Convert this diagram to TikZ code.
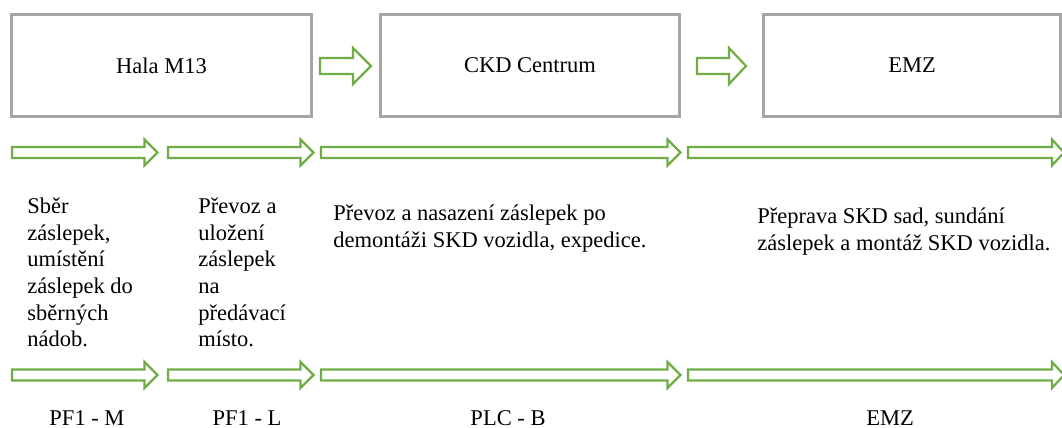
\documentclass[tikz,border=0pt]{standalone}
\usepackage{fontspec}
\setmainfont{Liberation Serif}
\definecolor{agreen}{HTML}{70AD47}
\definecolor{agrey}{HTML}{A5A5A5}
\newcommand\mainsize{\fontsize{11.25}{13.35}\selectfont}
% block arrow: x-tail, x-tip, y-centre, shaft half-height, head half-height, head length
\newcommand\blockarr[6]{%
  \draw[garrow] (#1,#3-#4) -- (#2-#6,#3-#4) -- (#2-#6,#3-#5) -- (#2,#3)
    -- (#2-#6,#3+#5) -- (#2-#6,#3+#4) -- (#1,#3+#4) -- cycle;}
\tikzset{
  boxst/.style={draw=agrey, line width=1.4pt, minimum height=51pt,
    inner sep=0pt, outer sep=0pt, font=\mainsize},
  garrow/.style={draw=agreen, line width=1.1pt, line join=miter, fill=white},
  desc/.style={anchor=north west, inner sep=0pt, align=left, font=\mainsize},
  lab/.style={anchor=base, inner sep=0pt, font=\mainsize}
}
\begin{document}
\begin{tikzpicture}[x=0.5pt,y=-0.5pt]
\fill[white] (0,0) rectangle (1062,428);
\useasboundingbox (0,0) rectangle (1062,428);

% header boxes
\node[boxst, minimum width=150pt] (hala) at (161.5,65.5) {Hala M13};
\node[boxst, minimum width=149.5pt] (ckd) at (530,65.5) {CKD Centrum};
\node[boxst, minimum width=148.5pt] (emz) at (912,65.5) {EMZ};

% arrows between boxes
\blockarr{320}{371}{66}{8}{18}{18}
\blockarr{697}{746}{66}{8}{18}{17}

% upper row of arrows
\blockarr{12}{157.5}{152.5}{5.5}{13}{13}
\blockarr{168}{313.5}{152.5}{5.5}{13}{13}
\blockarr{321}{680.5}{152.5}{5.5}{13}{13}
\blockarr{688}{1064}{152.5}{5.5}{13}{12}

% descriptions
\node[desc] (d1) at (27,193) {\rule{0pt}{10pt}Sběr\\záslepek,\\umístění\\záslepek do\\sběrných\\nádob.};
\node[desc] (d2) at (198,193) {\rule{0pt}{10pt}Převoz a\\uložení\\záslepek\\na\\předávací\\místo.};
\node[desc] (d3) at (333,200) {\rule{0pt}{10pt}Převoz a nasazení záslepek po\\demontáži SKD vozidla, expedice.};
\node[desc] (d4) at (757,203) {\rule{0pt}{10pt}Přeprava SKD sad, sundání\\záslepek a montáž SKD vozidla.};

% lower row of arrows
\blockarr{12}{157.5}{375}{5.5}{13}{13}
\blockarr{168}{313.5}{375}{5.5}{13}{13}
\blockarr{321}{680.5}{375}{5.5}{13}{13}
\blockarr{688}{1064}{375}{5.5}{13}{12}

% bottom labels
\node[lab] (l1) at (87,425) {PF1 - M};
\node[lab] (l2) at (247,425) {PF1 - L};
\node[lab] (l3) at (508,425) {PLC - B};
\node[lab] (l4) at (890,425) {EMZ};
\end{tikzpicture}
\end{document}
